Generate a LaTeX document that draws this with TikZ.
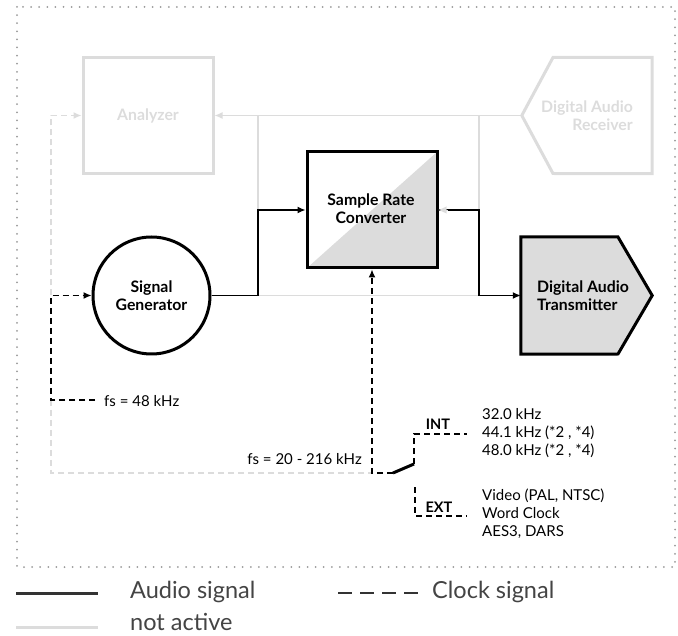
\documentclass[tikz,border=0pt]{standalone}
\usepackage{fontspec}
\setmainfont{Lato}
\usetikzlibrary{arrows.meta,calc}
\definecolor{inact}{HTML}{DCDCDC}
\definecolor{boxgray}{HTML}{DCDCDC}
\definecolor{legtxt}{HTML}{444444}
\tikzset{
  tip/.style={-{Latex[length=8pt,width=7pt]}},
  audio/.style={draw=black,line width=1.3pt},
  inactive/.style={draw=inact,line width=1.3pt},
  clock/.style={draw=black,line width=1.3pt,dash pattern=on 6pt off 4pt},
  iclock/.style={draw=inact,line width=1.3pt,dash pattern=on 6pt off 4pt},
  blockbox/.style={draw=black,line width=3pt,minimum width=130pt,minimum height=116pt,inner sep=0pt},
  iblock/.style={draw=inact,line width=3pt,minimum width=130pt,minimum height=116pt,inner sep=0pt},
  btxt/.style={font=\fontsize{15.8}{18}\selectfont\bfseries,align=center,inner sep=0pt},
  smalltxt/.style={font=\fontsize{15}{18}\selectfont,inner sep=0pt},
  legtext/.style={font=\fontsize{23.5}{26}\selectfont,text=legtxt,inner sep=0pt,anchor=west},
}
\begin{document}
\begin{tikzpicture}[x=1pt,y=-1pt]
\useasboundingbox (0,0) rectangle (678,636);
% frame
\draw[draw=gray!80,line width=2pt,line cap=round,dash pattern=on 0pt off 8.1pt] (17,7) rectangle (675,567);

% nodes
\node[iblock,btxt,text=inact] (an) at (148,115.5) {Analyzer};
\node[minimum width=130pt,minimum height=116pt,inner sep=0pt] (rx) at (587,115.5) {};
\draw[draw=inact,line width=3pt,line join=miter] (rx.west) -- (553,57.5) -- (rx.north east) -- (rx.south east) -- (553,173.5) -- cycle;
\node[btxt,align=right,text=inact,anchor=east] (rxl) at (633,116) {Digital Audio\\Receiver};

\node[blockbox,path picture={\fill[boxgray] (path picture bounding box.south west) -- (path picture bounding box.north east) -- (path picture bounding box.south east) -- cycle;}] (src) at (372,210) {};
\node[btxt] (srcl) at (371,209) {Sample Rate\\Converter};

\node[circle,draw=black,line width=3pt,minimum size=117pt,inner sep=0pt,btxt] (sg) at (151.5,295.5) {Signal\\Generator};

\node[minimum width=131pt,minimum height=117pt,inner sep=0pt] (tx) at (586.5,295.5) {};
\draw[draw=black,fill=boxgray,line width=3pt,line join=miter] (tx.north west) -- (618,237) -- (tx.east) -- (618,354) -- (tx.south west) -- cycle;
\node[btxt,align=left,anchor=west] (txl) at (537,296) {Digital Audio\\Transmitter};

% junction coordinates
\coordinate (jL) at (258,295.5);
\coordinate (jR) at (479,295.5);
\coordinate (tL) at (258,115.5);
\coordinate (tR) at (479,115.5);

% inactive audio lines
\draw[inactive,tip] (rx.west) -- (an.east);
\draw[inactive] (tL) -- (jL) -- (jR) -- (tR);

% active audio
\draw[audio,tip] (sg.east) -- (jL) |- (src.west);
\draw[audio,tip] (src.east) -| (jR) -- (tx.west);
\draw[draw=inact,line width=0.1pt,-{Latex[length=8pt,width=7pt,fill=inact]}] ([xshift=9pt]src.east) -- (src.east);

% clock lines
\coordinate (cA) at (51,295.5);
\coordinate (cB) at (51,400);
\coordinate (cC) at (51,473);
\coordinate (sw1) at (372,473);
\coordinate (sw2) at (393,473);
\coordinate (sw3) at (414,464);
\coordinate (int1) at (414,434);
\coordinate (int2) at (467,434);
\coordinate (ext0) at (415,487);
\coordinate (ext1) at (415,516);
\coordinate (ext2) at (467,516);

\draw[iclock,tip] (cA) |- (an.west);
\draw[iclock] (cB) -- (cC) -- (sw1);
\node[smalltxt,anchor=west] (f48) at (104,401) {fs = 48 kHz};
\draw[clock,tip] (95,400) -- (cB) -- (cA) -- (sg.west);
\draw[clock,tip] (sw2) -- (sw1) -- (src.south);
\draw[line width=3pt] (sw2) -- (sw3);
\draw[clock] (sw3) -- (int1) -- (int2);
\draw[clock] (ext0) -- (ext1) -- (ext2);

\node[smalltxt,anchor=east] (f20) at (362,459) {fs = 20 - 216 kHz};
\node[smalltxt,font=\fontsize{14.5}{18}\selectfont\bfseries] (intl) at (438,424) {INT};
\node[smalltxt,font=\fontsize{14.5}{18}\selectfont\bfseries] (extl) at (439,507) {EXT};
\node[smalltxt,align=left,anchor=north west] (intf) at (482,408) {32.0 kHz\\44.1 kHz (*2 , *4)\\48.0 kHz (*2 , *4)};
\node[smalltxt,align=left,anchor=north west] (extf) at (482,489) {Video (PAL, NTSC)\\Word Clock\\AES3, DARS};

% legend
\draw[draw=black!80,line width=3pt] (16,593) -- (98,593);
\draw[draw=inact,line width=3pt] (16,627) -- (98,627);
\draw[draw=black!80,line width=2pt,dash pattern=on 14pt off 8pt] (338,593) -- (420,593);
\node[legtext] (la) at (130,592) {Audio signal};
\node[legtext,anchor=base west] (ln) at (130,630) {not active};
\node[legtext] (lc) at (432,592) {Clock signal};
\end{tikzpicture}
\end{document}
